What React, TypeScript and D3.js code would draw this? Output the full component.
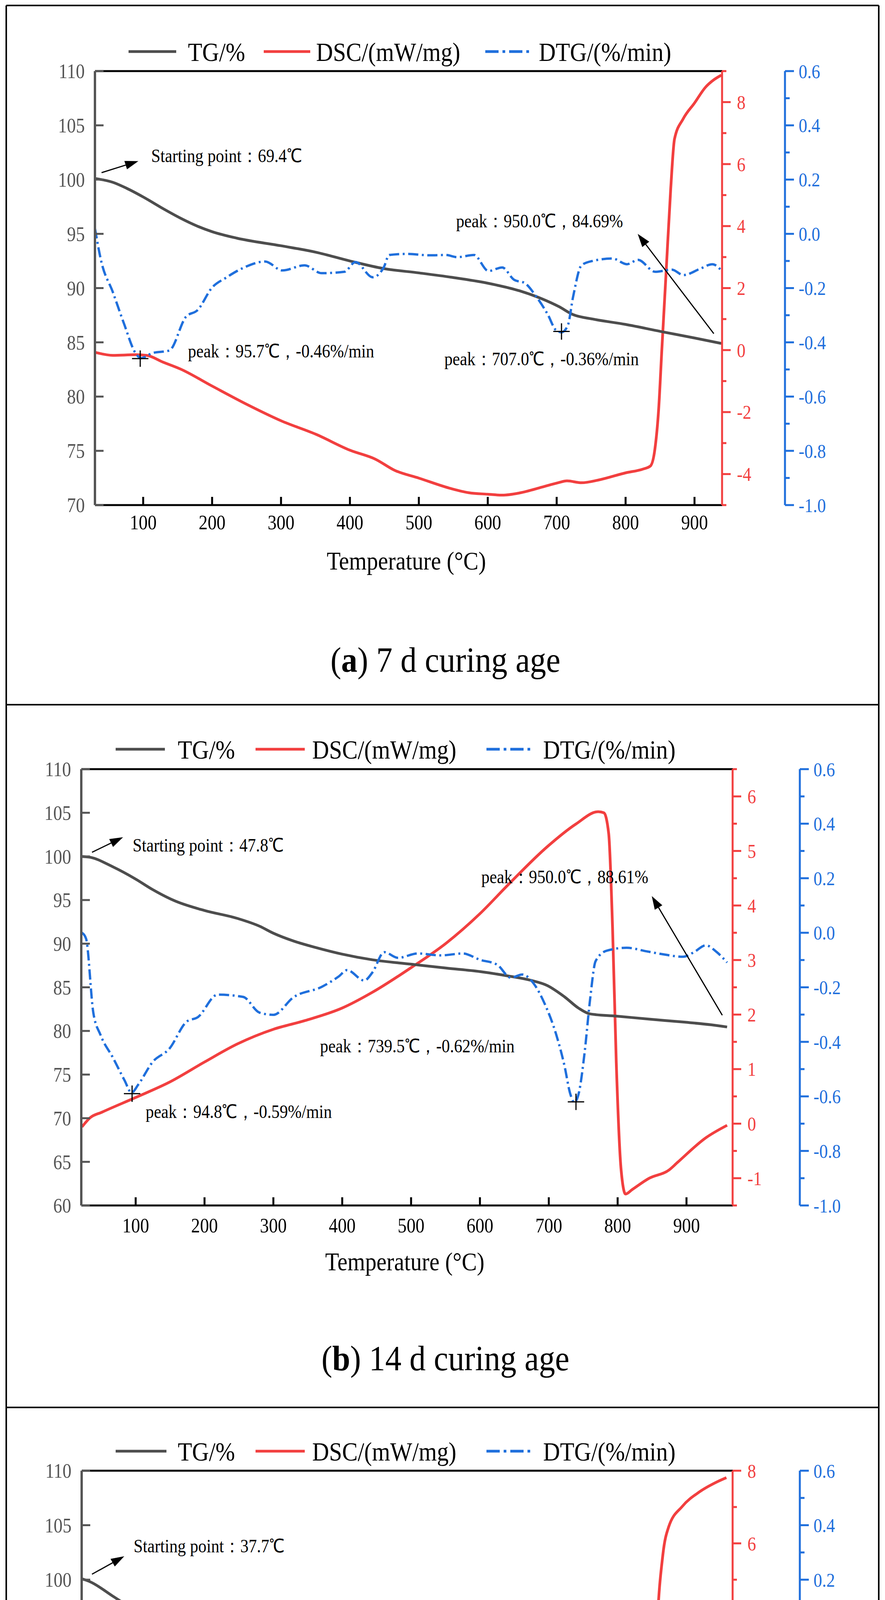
import * as d3 from 'd3';

type Pt = [number, number];

// ---------- data: [temperature °C, value] ----------

// (a) 7 d
const TG_7D: Pt[] = [
  [30, 100.1], [56, 99.75], [76, 99.2], [100, 98.4], [129.5, 97.3], [154, 96.45], [179, 95.7],
  [200, 95.2], [236, 94.6], [300, 93.9], [351, 93.3], [400, 92.5], [449, 91.8], [500, 91.4],
  [547, 91.0], [600, 90.45], [646, 89.75], [679, 89.0], [703, 88.3], [724, 87.55], [752, 87.15],
  [800, 86.65], [851, 86.0], [900, 85.4], [939, 84.9],
];
const DSC_7D: Pt[] = [
  [30, -0.07], [56, -0.17], [89, -0.15], [105, -0.17], [129, -0.39], [154, -0.61], [200, -1.16],
  [252, -1.77], [300, -2.28], [351, -2.72], [400, -3.23], [437, -3.52], [465, -3.88], [500, -4.13],
  [547, -4.47], [572, -4.6], [600, -4.65], [621, -4.68], [646, -4.61], [679, -4.42], [702, -4.28],
  [715, -4.22], [736, -4.28], [761, -4.19], [800, -3.96], [825, -3.84], [836, -3.74], [842.5, -3.2],
  [848, -1.9], [852.5, -0.03], [859, 2.59], [865.5, 5.21], [871, 6.81], [883.6, 7.46], [900, 7.97],
  [916, 8.48], [928.7, 8.73], [939, 8.87],
];
const DTG_7D: Pt[] = [
  [30, 0.02], [39, -0.1], [56, -0.215], [72, -0.33], [89, -0.44], [97, -0.458], [113, -0.44],
  [138, -0.43], [162, -0.306], [179, -0.281], [200, -0.198], [220, -0.162], [244, -0.127],
  [277, -0.102], [302, -0.135], [334, -0.116], [359, -0.145], [392, -0.14], [408, -0.104],
  [433, -0.16], [449, -0.124], [457, -0.078], [482, -0.074], [515, -0.079], [539, -0.078],
  [556, -0.086], [580, -0.078], [601, -0.137], [621, -0.124], [638, -0.169], [654, -0.182],
  [670, -0.23], [687, -0.297], [699, -0.355], [707, -0.363], [716, -0.339], [724, -0.23],
  [736, -0.116], [752, -0.1], [781, -0.091], [802, -0.112], [818, -0.096], [843, -0.14],
  [867, -0.132], [884, -0.152], [908, -0.129], [926, -0.112], [939, -0.135],
];

// (b) 14 d
const TG_14D: Pt[] = [
  [21, 100], [34, 99.9], [67, 98.8], [100, 97.4], [124.6, 96.2], [157, 94.9], [200, 93.8],
  [247.5, 92.9], [280, 92.0], [300, 91.2], [329.5, 90.3], [362, 89.55], [400, 88.8], [444, 88.15],
  [500, 87.65], [551, 87.2], [600, 86.8], [641, 86.3], [674, 85.8], [698, 85.2], [723, 83.9],
  [743.5, 82.6], [760, 81.95], [798, 81.7], [846, 81.35], [898, 81.0], [936, 80.7], [959, 80.45],
];
const DSC_14D: Pt[] = [
  [22, -0.06], [34, 0.11], [51, 0.21], [100, 0.48], [149, 0.76], [200, 1.13], [247.5, 1.46],
  [300, 1.73], [346, 1.89], [400, 2.12], [444, 2.41], [500, 2.86], [551, 3.31], [600, 3.85],
  [641, 4.38], [698, 5.08], [739, 5.49], [772, 5.72], [780, 5.7], [787, 5.32], [792.6, 3.6],
  [798, 1.13], [805, -0.84], [811.5, -1.29], [821, -1.21], [846, -1.0], [874.6, -0.85],
  [887, -0.71], [928, -0.26], [959, -0.03],
];
const DTG_14D: Pt[] = [
  [22, 0.0], [28, -0.022], [38.5, -0.293], [49, -0.375], [67, -0.458], [83.6, -0.54], [94, -0.586],
  [104, -0.556], [124.6, -0.474], [149, -0.425], [174, -0.326], [190, -0.31], [219, -0.227],
  [256, -0.235], [280, -0.293], [300, -0.301], [329.5, -0.236], [370.5, -0.198], [395, -0.16],
  [407, -0.137], [432, -0.175], [444, -0.145], [461, -0.071], [481, -0.092], [510, -0.076],
  [543, -0.083], [575, -0.076], [600, -0.099], [625, -0.117], [645, -0.165], [661.5, -0.153],
  [678, -0.186], [694, -0.26], [711, -0.375], [723, -0.49], [731, -0.589], [737, -0.622],
  [743.5, -0.589], [752, -0.44], [760, -0.244], [768, -0.104], [784, -0.066], [813, -0.055],
  [842, -0.068], [866, -0.079], [895, -0.088], [911, -0.071], [928, -0.046], [944, -0.071],
  [959, -0.109],
];

// (c) 28 d
const TG_28D: Pt[] = [
  [22, 100.07], [33.6, 99.8], [66, 98.5], [100, 97.1], [132, 95.65], [165, 94.4], [200, 93.2],
  [230, 92.6], [271, 91.9], [300, 91.3], [345, 90.7], [400, 89.86], [427, 89.57], [443, 89.1],
  [498, 88.6], [550, 88.3], [598, 87.9], [624, 87.6], [673, 86.55], [697.5, 85.8], [730, 85.1],
  [763, 84.7], [797.5, 84.3], [845, 83.9], [897.5, 83.5], [935, 83.2], [958, 82.9],
];
const DSC_28D: Pt[] = [
  [22, -0.03], [42, 0.03], [66, 0.15], [89, 0.24], [107, 0.19], [132, -0.03], [165, -0.4],
  [200, -0.77], [238.5, -1.15], [300, -1.52], [345, -1.89], [400, -2.36], [419, -2.51],
  [439, -2.61], [460, -2.82], [498, -3.04], [550, -3.23], [598, -3.32], [640, -3.23],
  [673, -3.01], [714, -2.73], [730, -2.73], [747, -2.73], [771, -2.57], [797.5, -2.45],
  [820, -2.29], [837, -2.14], [845, -1.39], [852, 0.84], [857, 3.57], [865.6, 5.68], [874, 6.45],
  [894, 7.02], [919, 7.42], [944, 7.69], [958, 7.81],
];
const DTG_28D: Pt[] = [
  [22, -0.065], [25, -0.04], [29.5, -0.173], [37.7, -0.388], [50, -0.504], [66, -0.56],
  [83, -0.611], [91, -0.606], [107, -0.537], [132, -0.446], [148, -0.401], [173, -0.338],
  [200, -0.255], [222, -0.197], [247, -0.156], [288, -0.153], [337, -0.148], [370, -0.168],
  [402.5, -0.098], [419, -0.131], [434, -0.186], [447.5, -0.123], [464, -0.06], [484, -0.09],
  [505, -0.053], [525, -0.073], [558, -0.07], [583, -0.087], [599, -0.101], [615.5, -0.098],
  [636, -0.16], [656.5, -0.169], [677, -0.214], [697.5, -0.272], [712, -0.315], [722, -0.289],
  [734, -0.173], [746.7, -0.098], [771, -0.07], [800, -0.093], [816, -0.065], [837, -0.082],
  [870, -0.09], [897.5, -0.082], [923, -0.054], [939.7, -0.098], [950, -0.148], [958, -0.103],
];

// tick labels
const X_TICKS = [100, 200, 300, 400, 500, 600, 700, 800, 900];
const TG_TICKS_70 = [70, 75, 80, 85, 90, 95, 100, 105, 110];
const TG_TICKS_60 = [60, 65, 70, 75, 80, 85, 90, 95, 100, 105, 110];
const DSC_TICKS_A = [-4, -2, 0, 2, 4, 6, 8];
const DSC_TICKS_B = [-1, 0, 1, 2, 3, 4, 5, 6];
const DSC_TICKS_C = [-4, -2, 0, 2, 4, 6, 8];
const DTG_TICKS = [-1.0, -0.8, -0.6, -0.4, -0.2, 0.0, 0.2, 0.4, 0.6];

const SERIES_NAMES = ['TG/%', 'DSC/(mW/mg)', 'DTG/(%/min)'];

// ---------- styles ----------
const FONT = "'Liberation Serif', 'Times New Roman', serif";
const SQUISH = 0.88;
const C_TG = '#4d4d4d';
const C_AXIS = '#555555';
const C_DSC = '#f23f3f';
const C_DTG = '#1f6fdc';
const DASH_DOT = '26 9 5 9';

interface Note { at: Pt; text: string }
interface Peak { t: number; v: number; label: Note }

interface Panel {
  letter: string;
  caption: string;
  left: number; right: number; top: number; bottom: number; blueX: number;
  legendY: number; legendX: number[]; tickY: number; titleX: number; titleY: number; captionY: number;
  xDomain: [number, number];
  tgDomain: [number, number]; tgTicks: number[];
  dscDomain: [number, number]; dscTicks: number[]; dscMinor: number;
  tg: Pt[]; dsc: Pt[]; dtg: Pt[];
  start: { tail: Pt; head: Pt; label: Note };
  peaks: Peak[];
  end: { tail: Pt; head: Pt; label: Note };
}

const PANELS: Panel[] = [
  {
    letter: 'a', caption: ' 7 d curing age',
    left: 243, right: 1848, top: 182, bottom: 1293, blueX: 2009,
    legendY: 132, legendX: [329, 451, 481, 675, 794, 809, 1242, 1358, 1379],
    tickY: 1337, titleX: 1040, titleY: 1435, captionY: 1688,
    xDomain: [30, 940], tgDomain: [70, 110], tgTicks: TG_TICKS_70,
    dscDomain: [-5, 9], dscTicks: DSC_TICKS_A, dscMinor: 1,
    tg: TG_7D, dsc: DSC_7D, dtg: DTG_7D,
    start: { tail: [39.6, 100.64], head: [93, 101.7], label: { at: [111.6, 102.2], text: 'Starting point：69.4℃' } },
    peaks: [
      { t: 95.7, v: -0.46, label: { at: [165, 84.2], text: 'peak：95.7℃，-0.46%/min' } },
      { t: 707.0, v: -0.36, label: { at: [537, 83.5], text: 'peak：707.0℃，-0.36%/min' } },
    ],
    end: { tail: [928, 85.8], head: [817.6, 95.0], label: { at: [554, 96.2], text: 'peak：950.0℃，84.69%' } },
  },
  {
    letter: 'b', caption: ' 14 d curing age',
    left: 208, right: 1875, top: 1969, bottom: 3086, blueX: 2047,
    legendY: 1918, legendX: [296, 422, 455, 654, 780, 799, 1245, 1358, 1390],
    tickY: 3137, titleX: 1036, titleY: 3229, captionY: 3476,
    xDomain: [21, 967], tgDomain: [60, 110], tgTicks: TG_TICKS_60,
    dscDomain: [-1.5, 6.5], dscTicks: DSC_TICKS_B, dscMinor: 0.5,
    tg: TG_14D, dsc: DSC_14D, dtg: DTG_14D,
    start: { tail: [36.6, 100.47], head: [81.7, 102.2], label: { at: [95.6, 101.3], text: 'Starting point：47.8℃' } },
    peaks: [
      { t: 94.8, v: -0.59, label: { at: [114.5, 70.8], text: 'peak：94.8℃，-0.59%/min' } },
      { t: 739.5, v: -0.62, label: { at: [367.8, 78.3], text: 'peak：739.5℃，-0.62%/min' } },
    ],
    end: { tail: [952, 81.8], head: [849.6, 95.45], label: { at: [602, 97.7], text: 'peak：950.0℃，88.61%' } },
  },
  {
    letter: 'c', caption: ' 28 d curing age',
    left: 209, right: 1875, top: 3765, bottom: 4881, blueX: 2047,
    legendY: 3715, legendX: [296, 426, 455, 654, 780, 799, 1245, 1358, 1390],
    tickY: 4933, titleX: 1036, titleY: 5027, captionY: 5273,
    xDomain: [21, 967], tgDomain: [70, 110], tgTicks: TG_TICKS_70,
    dscDomain: [-4, 8], dscTicks: DSC_TICKS_C, dscMinor: 1,
    tg: TG_28D, dsc: DSC_28D, dtg: DTG_28D,
    start: { tail: [36, 100.5], head: [82.9, 102.15], label: { at: [96.5, 103.1], text: 'Starting point：37.7℃' } },
    peaks: [
      { t: 89.0, v: -0.61, label: { at: [156.7, 83.2], text: 'pcak：89.0℃，-0.61%/min' } },
      { t: 715.7, v: -0.32, label: { at: [511.6, 82.8], text: 'peak：715.7℃，-0.32%/min' } },
    ],
    end: { tail: [952, 84.05], head: [829, 94.9], label: { at: [565, 96.1], text: 'pcak：950.0℃，80.16%' } },
  },
];

const BOX_X = [16, 2249];
const BOX_Y = [14, 1804, 3603, 5395];

// ---------- helpers ----------
const Txt = ({
  x, y, size, fill = '#000', anchor = 'start', children,
}: {
  x: number; y: number; size: number; fill?: string; anchor?: string; children: React.ReactNode;
}) => (
  <text
    transform={`translate(${x},${y}) scale(${SQUISH},1)`}
    fontSize={size}
    fill={fill}
    textAnchor={anchor}
    dy="0.35em"
    fontFamily={FONT}
  >
    {children}
  </text>
);

const Arrow = ({ tail, head, size }: { tail: [number, number]; head: [number, number]; size: number }) => {
  const a = Math.atan2(head[1] - tail[1], head[0] - tail[0]);
  const bx = head[0] - Math.cos(a) * size;
  const by = head[1] - Math.sin(a) * size;
  const w = size * 0.33;
  const p1 = [bx + Math.sin(a) * w, by - Math.cos(a) * w];
  const p2 = [bx - Math.sin(a) * w, by + Math.cos(a) * w];
  return (
    <g>
      <line x1={tail[0]} y1={tail[1]} x2={bx} y2={by} stroke="#000" strokeWidth={3} />
      <polygon points={`${head[0]},${head[1]} ${p1[0]},${p1[1]} ${p2[0]},${p2[1]}`} fill="#000" />
    </g>
  );
};

const ChartPanel = ({ p }: { p: Panel }) => {
  const x = d3.scaleLinear().domain(p.xDomain).range([p.left, p.right]);
  const yTG = d3.scaleLinear().domain(p.tgDomain).range([p.bottom, p.top]);
  const yDSC = d3.scaleLinear().domain(p.dscDomain).range([p.bottom, p.top]);
  const yDTG = d3.scaleLinear().domain([-1, 0.6]).range([p.bottom, p.top]);

  const line = (ys: d3.ScaleLinear<number, number>) =>
    d3.line<Pt>().x((d) => x(d[0])).y((d) => ys(d[1])).curve(d3.curveMonotoneX);

  const dscMinor = d3.range(p.dscDomain[0], p.dscDomain[1] + 1e-9, p.dscMinor)
    .filter((v) => !p.dscTicks.some((t) => Math.abs(t - v) < 1e-9));
  const dtgMinor = d3.range(-1, 0.6001, 0.1)
    .filter((v) => !DTG_TICKS.some((t) => Math.abs(t - v) < 1e-6));

  const pt = (d: Pt): [number, number] => [x(d[0]), yTG(d[1])];
  const L = p.legendX;

  return (
    <g>
      {/* legend */}
      <line x1={L[0]} x2={L[1]} y1={p.legendY} y2={p.legendY} stroke={C_TG} strokeWidth={7} />
      <Txt x={L[2]} y={p.legendY} size={68}>{SERIES_NAMES[0]}</Txt>
      <line x1={L[3]} x2={L[4]} y1={p.legendY} y2={p.legendY} stroke={C_DSC} strokeWidth={7} />
      <Txt x={L[5]} y={p.legendY} size={68}>{SERIES_NAMES[1]}</Txt>
      <line x1={L[6]} x2={L[7]} y1={p.legendY} y2={p.legendY} stroke={C_DTG} strokeWidth={7}
        strokeDasharray="34 10 7 10" />
      <Txt x={L[8]} y={p.legendY} size={68}>{SERIES_NAMES[2]}</Txt>

      {/* series */}
      <path d={line(yDSC)(p.dsc) ?? ''} fill="none" stroke={C_DSC} strokeWidth={7} strokeLinejoin="round" />
      <path d={line(yTG)(p.tg) ?? ''} fill="none" stroke={C_TG} strokeWidth={7} strokeLinejoin="round" />
      <path d={line(yDTG)(p.dtg) ?? ''} fill="none" stroke={C_DTG} strokeWidth={6} strokeDasharray={DASH_DOT} />

      {/* frame: top + bottom */}
      <line x1={p.left} x2={p.right} y1={p.top} y2={p.top} stroke="#000" strokeWidth={5} />
      <line x1={p.left} x2={p.right} y1={p.bottom} y2={p.bottom} stroke="#000" strokeWidth={5} />
      {X_TICKS.map((t) => (
        <g key={t}>
          <line x1={x(t)} x2={x(t)} y1={p.bottom} y2={p.bottom - 21} stroke="#000" strokeWidth={5} />
          <Txt x={x(t)} y={p.tickY} size={52} anchor="middle">{t}</Txt>
        </g>
      ))}
      <Txt x={p.titleX} y={p.titleY} size={66} anchor="middle">Temperature (°C)</Txt>

      {/* left TG axis */}
      <line x1={p.left} x2={p.left} y1={p.top} y2={p.bottom} stroke={C_AXIS} strokeWidth={6} />
      {p.tgTicks.map((t) => (
        <g key={t}>
          <line x1={p.left} x2={p.left + 22} y1={yTG(t)} y2={yTG(t)} stroke={C_AXIS} strokeWidth={5} />
          <Txt x={p.left - 26} y={yTG(t)} size={52} fill={C_AXIS} anchor="end">{t}</Txt>
        </g>
      ))}

      {/* right DSC axis */}
      <line x1={p.right} x2={p.right} y1={p.top} y2={p.bottom} stroke={C_DSC} strokeWidth={5} />
      {p.dscTicks.map((t) => (
        <g key={t}>
          <line x1={p.right} x2={p.right + 22} y1={yDSC(t)} y2={yDSC(t)} stroke={C_DSC} strokeWidth={5} />
          <Txt x={p.right + 38} y={yDSC(t)} size={50} fill={C_DSC}>{t}</Txt>
        </g>
      ))}
      {dscMinor.map((t) => (
        <line key={t} x1={p.right} x2={p.right + 11} y1={yDSC(t)} y2={yDSC(t)} stroke={C_DSC} strokeWidth={5} />
      ))}

      {/* far right DTG axis */}
      <line x1={p.blueX} x2={p.blueX} y1={p.top} y2={p.bottom} stroke={C_DTG} strokeWidth={5} />
      {DTG_TICKS.map((t) => (
        <g key={t}>
          <line x1={p.blueX} x2={p.blueX + 23} y1={yDTG(t)} y2={yDTG(t)} stroke={C_DTG} strokeWidth={5} />
          <Txt x={p.blueX + 35} y={yDTG(t)} size={50} fill={C_DTG}>{t.toFixed(1)}</Txt>
        </g>
      ))}
      {dtgMinor.map((t) => (
        <line key={t} x1={p.blueX} x2={p.blueX + 12} y1={yDTG(t)} y2={yDTG(t)} stroke={C_DTG} strokeWidth={5} />
      ))}

      {/* annotations */}
      <Arrow tail={pt(p.start.tail)} head={pt(p.start.head)} size={34} />
      <Txt x={x(p.start.label.at[0])} y={yTG(p.start.label.at[1])} size={48}>{p.start.label.text}</Txt>
      {p.peaks.map((k) => (
        <g key={k.t}>
          <line x1={x(k.t) - 21} x2={x(k.t) + 21} y1={yDTG(k.v)} y2={yDTG(k.v)} stroke="#000" strokeWidth={3} />
          <line x1={x(k.t)} x2={x(k.t)} y1={yDTG(k.v) - 21} y2={yDTG(k.v) + 21} stroke="#000" strokeWidth={3} />
          <Txt x={x(k.label.at[0])} y={yTG(k.label.at[1])} size={48}>{k.label.text}</Txt>
        </g>
      ))}
      <Arrow tail={pt(p.end.tail)} head={pt(p.end.head)} size={34} />
      <Txt x={x(p.end.label.at[0])} y={yTG(p.end.label.at[1])} size={48}>{p.end.label.text}</Txt>

      {/* caption */}
      <text
        transform={`translate(1140,${p.captionY}) scale(0.9,1)`}
        fontSize={92}
        textAnchor="middle"
        dy="0.35em"
        fontFamily={FONT}
      >
        (<tspan fontWeight="bold">{p.letter}</tspan>){p.caption}
      </text>
    </g>
  );
};

export default function App() {
  return (
    <svg
      width={2265}
      height={5409}
      style={{ position: 'absolute', left: 0, top: 0, background: '#fff' }}
    >
      <rect width={2265} height={5409} fill="#fff" />
      {PANELS.map((p) => (
        <ChartPanel key={p.letter} p={p} />
      ))}
      {/* panel frames */}
      {BOX_X.map((bx) => (
        <line key={bx} x1={bx} x2={bx} y1={BOX_Y[0]} y2={BOX_Y[3]} stroke="#000" strokeWidth={4} />
      ))}
      {BOX_Y.map((by) => (
        <line key={by} x1={BOX_X[0]} x2={BOX_X[1]} y1={by} y2={by} stroke="#000" strokeWidth={4} />
      ))}
    </svg>
  );
}
